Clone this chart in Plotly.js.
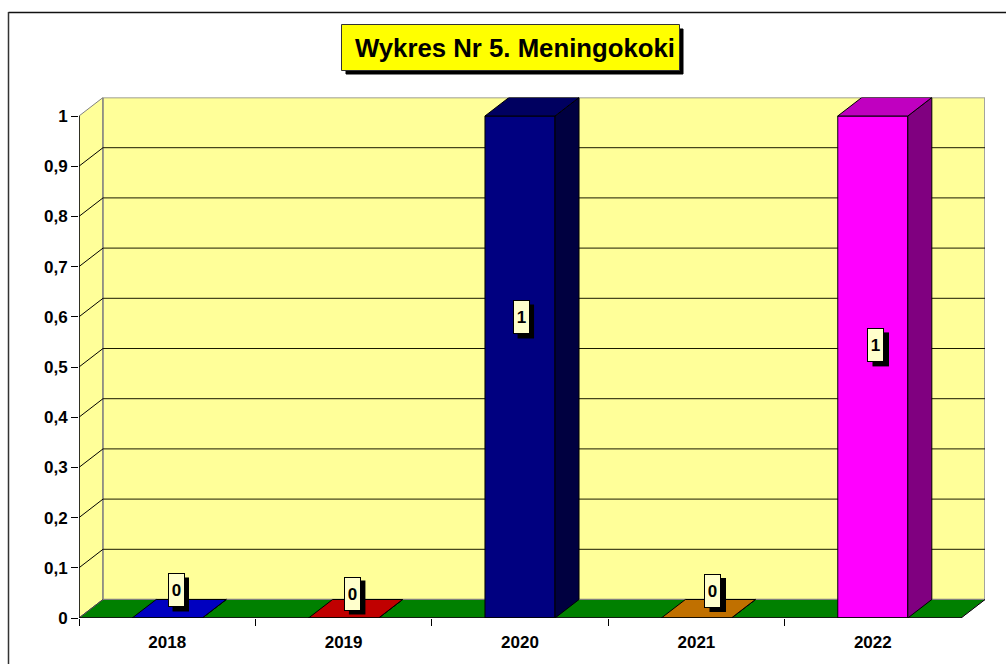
<!DOCTYPE html>
<html>
<head>
<meta charset="utf-8">
<style>html,body{margin:0;padding:0;background:#fff;overflow:hidden}#chart{width:1006px;height:664px}</style>
<script src="https://cdn.plot.ly/plotly-3.0.1.min.js"></script>
</head>
<body>
<div id="chart"></div>
<script>
// ---- data ----
const categories = ['2018', '2019', '2020', '2021', '2022'];
const values = [0, 0, 1, 0, 1];
const yTickValues = [0, 0.1, 0.2, 0.3, 0.4, 0.5, 0.6, 0.7, 0.8, 0.9, 1];
const yTickLabels = ['0', '0,1', '0,2', '0,3', '0,4', '0,5', '0,6', '0,7', '0,8', '0,9', '1'];
const chartTitle = 'Wykres Nr 5. Meningokoki';

// ---- styles ----
const frontColors = ['#0000FF', '#FF0000', '#000080', '#FF9900', '#FF00FF'];
const topColors = ['#0000C0', '#C00000', '#000060', '#C07000', '#C000C0'];
const sideColors = ['#000080', '#800000', '#000040', '#804C00', '#800080'];

// ---- layout constants ----
const W = 1006, H = 664;
const plotLeft = 79, plotRight = 985, plotBottom = 618, plotTop = 97.5;
const dx = 24 / 176.4, dy = 18.5 / 502;
const barW = 0.397;
const labelX = [0.05, 1.05, 2.006, 3.094, 4.018];
const labelY = [0.0548, 0.0488, 0.5986, 0.0538, 0.543];
const xMin = -0.5, xMax = categories.length - 0.5;
const fontName = 'Arial, "Liberation Sans", sans-serif';

const path = pts => 'M' + pts.map(p => p[0] + ',' + p[1]).join('L') + 'Z';
const poly = (pts, fill, line, width) => ({type: 'path', xref: 'x', yref: 'y', layer: 'below',
  path: path(pts), fillcolor: fill, line: {color: line, width: width === undefined ? 1 : width}});
const seg = (x0, y0, x1, y1, color, width) => ({type: 'line', xref: 'x', yref: 'y', layer: 'below',
  x0, y0, x1, y1, line: {color, width}});
const pxRect = (x0, y0, x1, y1, fill, line, layer) => ({type: 'rect', xref: 'paper', yref: 'paper', layer,
  x0: x0 / W, x1: x1 / W, y0: 1 - y0 / H, y1: 1 - y1 / H, fillcolor: fill, line: {color: line, width: 1}});

const shapes = [];
// chart frame (top and left only)
shapes.push({type:'line', xref:'paper', yref:'paper', layer:'below', x0:8.5/W, x1:1, y0:1-12.5/H, y1:1-12.5/H, line:{color:'#111', width:1.5}});
shapes.push({type:'line', xref:'paper', yref:'paper', layer:'below', x0:8.5/W, x1:8.5/W, y0:0, y1:1-12/H, line:{color:'#333', width:1.5}});
// title box
shapes.push(pxRect(346, 29, 683, 74, '#000', '#000', 'below'));
shapes.push(pxRect(341.5, 24.5, 679.5, 70.5, '#FFFF00', '#333', 'below'));
// walls and floor
shapes.push(poly([[xMin, 0], [xMin, 1], [xMin + dx, 1 + dy], [xMin + dx, dy]], '#FFFF99', '#808080', 1));
shapes.push(poly([[xMin + dx, dy], [xMin + dx, 1 + dy], [xMax + dx, 1 + dy], [xMax + dx, dy]], '#FFFF99', '#808080', 1.5));
shapes.push(seg(xMax + dx, dy, xMax + dx, 1 + dy, '#A6A6A6', 1.5));
// grid lines on back and left wall
yTickValues.slice(1, -1).forEach(v => {
  shapes.push(seg(xMin, v, xMin + dx, v + dy, '#000', 1));
  shapes.push(seg(xMin + dx, v + dy, xMax + dx, v + dy, '#1a1a00', 1));
});
shapes.push(poly([[xMin, 0], [xMax, 0], [xMax + dx, dy], [xMin + dx, dy]], '#008000', '#808080', 1));
shapes.push(seg(xMax, 0, xMax + dx, dy, '#000', 1));
shapes.push(seg(xMin, 0, xMin + dx, dy, '#404040', 1));

// value-label shadows
categories.forEach((c, i) => {
  shapes.push({type: 'rect', layer: 'above', xref: 'x', yref: 'y', xsizemode: 'pixel', ysizemode: 'pixel',
    xanchor: labelX[i], yanchor: labelY[i], x0: -3.5, x1: 13, y0: -21, y1: 13,
    fillcolor: '#000', line: {width: 0}});
});

const traces = [];
// front faces
traces.push({type: 'bar', x: categories.map((c, i) => i), y: values, width: barW,
  marker: {color: frontColors, line: {color: '#000', width: 1}}, cliponaxis: false,
  hoverinfo: 'skip', showlegend: false});
// top and side faces, derived from the values
values.forEach((v, i) => {
  const a = i - barW / 2, b = i + barW / 2;
  const side = [[b, 0], [b + dx, dy], [b + dx, v + dy], [b, v], [b, 0]];
  const topFace = [[a, v], [b, v], [b + dx, v + dy], [a + dx, v + dy], [a, v]];
  [[side, sideColors[i]], [topFace, topColors[i]]].forEach(([pts, col]) => {
    traces.push({type: 'scatter', mode: 'lines', x: pts.map(p => p[0]), y: pts.map(p => p[1]),
      fill: 'toself', fillcolor: col, line: {color: '#000', width: 1}, cliponaxis: false,
      hoverinfo: 'skip', showlegend: false});
  });
});
// axis lines
traces.push({type: 'scatter', mode: 'lines', x: [xMax, xMin, xMin], y: [0, 0, 1],
  line: {color: '#000', width: 1.5}, cliponaxis: false, hoverinfo: 'skip', showlegend: false});

const annotations = categories.map((c, i) => ({
  x: labelX[i], y: labelY[i], xref: 'x', yref: 'y', text: '<b>' + values[i] + '</b>', showarrow: false,
  font: {family: fontName, size: 17, color: '#000'}, bgcolor: '#FFFFCC', bordercolor: '#000', borderwidth: 1,
  borderpad: 0, width: 15, height: 32, align: 'center', valign: 'middle', xanchor: 'center', yanchor: 'middle'
}));

const layout = {
  width: W, height: H, margin: {l: 0, r: 0, t: 0, b: 0}, paper_bgcolor: '#fff', plot_bgcolor: 'rgba(0,0,0,0)',
  showlegend: false, bargap: 0, hovermode: false,
  title: {text: '<b>' + chartTitle + '</b>', x: 515 / W, xref: 'paper', xanchor: 'center',
    y: 1 - 47.5 / H, yref: 'paper', yanchor: 'middle', font: {family: fontName, size: 25.75, color: '#000'}},
  xaxis: {domain: [plotLeft / W, plotRight / W], range: [xMin, xMax + dx], showgrid: false, zeroline: false, showline: false,
    tickmode: 'array', tickvals: categories.map((c, i) => i), ticktext: categories, ticks: '', ticklen: 0,
    ticklabelstandoff: 12, tickfont: {family: fontName, size: 17, weight: 'bold', color: '#000'},
    minor: {tickmode: 'array', tickvals: categories.map((c, i) => i - 0.5), ticks: 'outside', ticklen: 7,
      tickwidth: 1, tickcolor: '#000', showgrid: false}},
  yaxis: {domain: [1 - plotBottom / H, 1 - plotTop / H], range: [0, 1 + dy], showgrid: false, zeroline: false, showline: false,
    tickmode: 'array', tickvals: yTickValues, ticktext: yTickLabels, ticks: 'outside', ticklen: 7, tickwidth: 1, tickcolor: '#000',
    tickfont: {family: fontName, size: 17, weight: 'bold', color: '#000'}},
  shapes, annotations
};
Plotly.newPlot('chart', traces, layout, {displayModeBar: false, staticPlot: true});
</script>
</body>
</html>
